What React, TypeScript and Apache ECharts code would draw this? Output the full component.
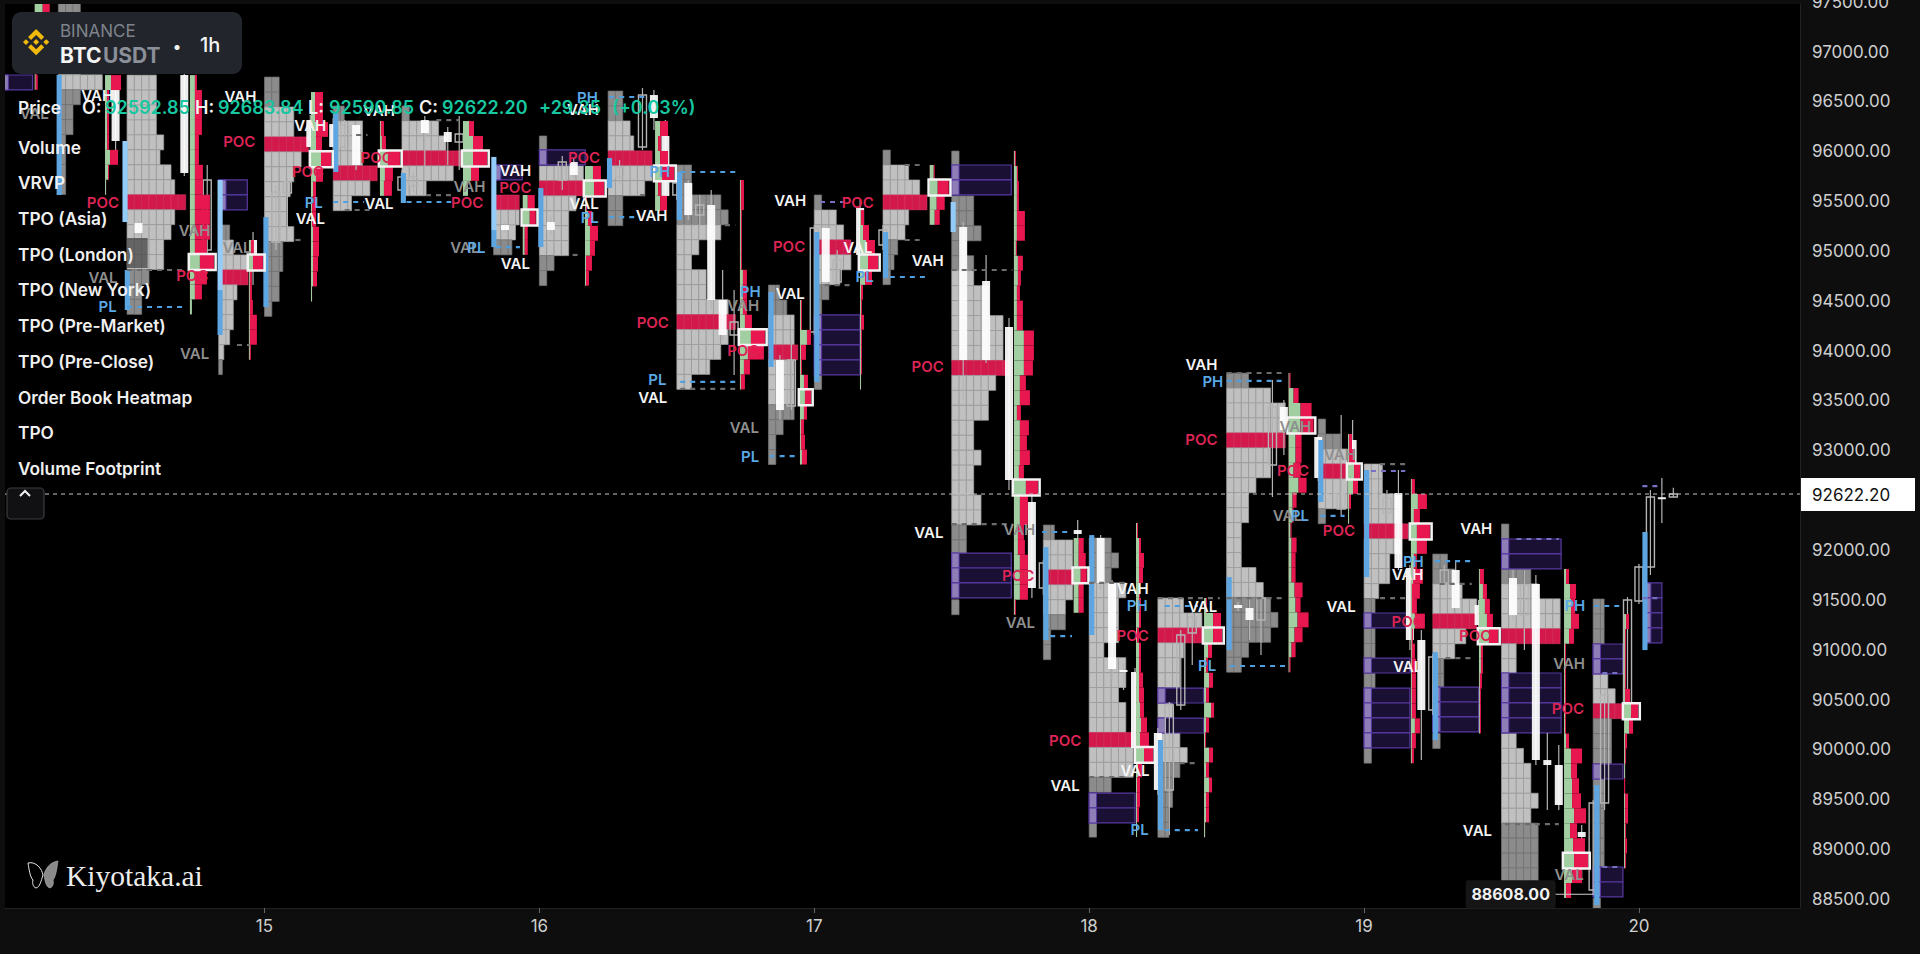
import React, { useEffect, useRef } from "react";
import * as echarts from "echarts";

// ---------- axes ----------
const dayHours = [24, 48, 72, 96, 120, 144];
const dayLabels = ["15", "16", "17", "18", "19", "20"];
const priceTicks = [88500, 89000, 89500, 90000, 90500, 91000, 91500, 92000, 93000, 93500, 94000, 94500, 95000, 95500, 96000, 96500, 97000, 97500];
const lastPrice = 92622.2;
const lowPrice = 88608;
const legendNames = ["Price", "Volume", "VRVP", "TPO (Asia)", "TPO (London)", "TPO (New York)", "TPO (Pre-Market)", "TPO (Pre-Close)", "Order Book Heatmap", "TPO", "Volume Footprint"];

// ---------- TPO profiles (hours since the 14th, price of first row, cells per 150-USD row) ----------
const profileHour = [6, 12, 20, 24, 30, 36, 44, 48, 54, 60, 68, 72, 78, 84, 92, 96, 102, 108, 116, 120, 126, 132, 140];
const profileTop = [97577, 96824, 95320, 96804, 96514, 96514, 95621, 96213, 96664, 95922, 94718, 95621, 96072, 96062, 92311, 92181, 91579, 93835, 93374, 92923, 92020, 92321, 91569];
const profileCells = [
  [3, 3, 3, 3, 3, 6, 3, 2, 2, 1, 1, 1, 1],
  [4, 4, 4, 4, 5, 4.5, 6, 6.5, 8, 6.5, 6, 5, 5, 3, 2, 2],
  [1.5, 2, 4, 4, 2.5, 2, 2, 1.5, 0.7, 0.5],
  [2, 2, 4, 4, 6, 5, 4, 3.5, 3, 3, 4, 2.5, 2.5, 2, 2, 1],
  [1.5, 4, 4, 4, 6, 5, 2.5],
  [1, 5, 6, 8, 7, 3.3],
  [3.5, 3.5, 3, 2.5],
  [1, 0, 6, 6, 5, 4, 4, 4, 2, 1],
  [2, 2, 3, 3.5, 6, 6, 5, 2, 2],
  [2, 2, 6, 7, 6, 3, 2, 4, 4, 7, 8, 7, 6, 4.5, 2],
  [1.5, 2.5, 3.5, 3.5, 4, 3.5, 3.5, 3.5, 3.5, 2, 1, 1],
  [1, 3, 4, 5, 5, 3.5, 2, 1, 0, 0, 0, 0, 1],
  [1, 3.5, 5, 6, 3.5, 3, 2, 1.5, 1],
  [1, 0, 0, 3, 3, 4, 2, 3, 3, 5, 5, 7, 7, 7, 8, 6, 5, 5, 3, 3, 4, 3, 3, 4, 4, 2, 2, 0, 0, 0, 1],
  [1.5, 4, 4, 5, 4, 3, 3, 1, 1],
  [3, 4, 3, 5, 4, 4, 4, 2, 5, 5, 4, 5, 5, 6, 6, 6, 3, 0, 0, 1],
  [3.5, 6, 6, 3.5, 3, 3, 0, 2, 0, 3, 4, 3, 2, 2, 1.5, 1.5],
  [3, 6, 8, 8, 8, 6, 6, 4, 3, 3, 2, 2, 2, 4, 5, 6, 7, 6, 3, 2],
  [1, 3, 4, 4, 4, 4, 1],
  [2.5, 2.5, 5, 5, 6, 5, 3.5, 3.5, 2, 1.5, 0, 1.5, 1.5, 0, 1.5, 0, 0, 0, 0, 1],
  [2, 3, 4, 6, 6, 4.5, 3, 1.5, 1.5, 0, 0, 0, 1],
  [1, 0, 0, 4, 5, 8, 8, 8, 2, 2, 0, 0, 0, 0, 2, 3, 4, 4, 5, 4, 5, 5, 5, 5, 1, 1],
  [1.5, 1.5, 1.5, 0, 0, 2, 3, 4, 2.5, 2.5, 2.5, 0, 1.5, 1.5, 1.5, 1.5, 1.5, 1.5, 0, 0, 1],
];
const profilePoc = [-1, 8, 3, 4, 4, 3, 0, 3, 4, 10, 4, 3, 3, 14, 3, 13, 2, 4, 3, 4, 4, 7, 7];
const profileVaFrom = [5, 0, 1, 2, 1, 1, 0, 2, 2, 4, 2, 1, 1, 8, 1, 3, 0, 1, 2, 0, 2, 4, 5];
const profileVaTo = [5, 12, 8, 10, 6, 5, 2, 7, 6, 14, 7, 5, 5, 24, 5, 15, 10, 14, 5, 8, 6, 19, 7];

// ---------- volume footprints: [buy, sell] per row ----------
const footHour = [3.94, 10.08, 17.49, 22.64, 28.06, 34.08, 41.33, 46.55, 51.98, 58.1, 65.51, 70.75, 75.99, 82.08, 89.43, 94.65, 100.09, 106.03, 113.41, 118.6, 124.09, 130.03, 137.46, 142.7];
const footTop = [97577, 96824, 96824, 95169, 96654, 96363, 96363, 95621, 95912, 96363, 95771, 94568, 95470, 95922, 96062, 92181, 92331, 91579, 93835, 93224, 92772, 91870, 91870, 91418];
const footBoxRow = [-1, -1, 12, 1, 4, 2, 2, 1, 1, 3, 10, 6, 3, 1, 22, 2, 15, 2, 3, 2, 3, 4, 19, 6];
const footRows = [
  [[8, 7], [1, 1], [1, 1], [1, 1], [1, 1], [1, 2]],
  [[6, 10], [2, 2], [2, 2], [2, 2], [2, 2], [5, 8], [3, 1], [1, 0]],
  [[5, 2], [5, 7], [5, 7], [5, 7], [5, 4], [5, 4], [5, 8], [5, 8], [5, 15], [5, 15], [5, 15], [5, 12], [10, 14], [5, 12], [5, 7], [2, 0]],
  [[2, 3], [4, 10], [1, 2], [1, 2], [1, 3], [1, 7], [1, 7], [1, 1]],
  [[4, 8], [4, 8], [5, 12], [5, 6], [10, 10], [5, 7], [2, 3], [1, 4], [1, 4], [2, 6], [2, 6], [2, 5], [2, 4], [1, 0]],
  [[1, 3], [2, 4], [8, 12], [5, 8], [4, 8]],
  [[6, 5], [10, 10], [10, 14], [8, 8], [5, 0]],
  [[5, 7], [7, 6], [2, 3], [2, 3]],
  [[8, 8], [9, 10], [1, 1], [3, 4], [5, 8], [5, 5], [1, 6], [1, 3]],
  [[5, 8], [3, 3], [5, 8], [7, 12], [3, 3], [5, 7]],
  [[1, 3], [1, 3], [1, 1], [1, 1], [1, 1], [1, 1], [3, 4], [3, 4], [3, 4], [5, 7], [11, 14], [8, 16], [4, 6], [1, 4]],
  [[1, 1], [1, 1], [7, 4], [1, 5], [1, 1], [4, 4], [5, 6], [4, 3], [1, 3], [1, 4], [2, 5]],
  [[1, 3], [3, 6], [6, 9], [8, 10], [5, 7], [1, 2], [1, 1], [1, 3], [1, 1], [1, 1], [1, 1], [1, 0]],
  [[4, 1], [8, 11], [7, 8], [5, 5]],
  [[1, 1], [3, 1], [3, 2], [3, 2], [3, 8], [3, 8], [2, 1], [4, 5], [4, 3], [3, 3], [3, 6], [3, 6], [10, 10], [10, 10], [10, 9], [6, 6], [6, 10], [3, 4], [6, 9], [6, 7], [6, 10], [5, 5], [12, 12], [6, 8], [6, 8], [4, 6], [4, 7], [6, 8], [6, 8], [6, 8], [1, 1]],
  [[5, 5], [5, 7], [7, 6], [5, 5], [5, 5]],
  [[1, 1], [3, 2], [3, 5], [3, 4], [3, 1], [3, 2], [3, 2], [1, 2], [3, 2], [3, 2], [3, 4], [3, 5], [4, 4], [5, 6], [4, 9], [8, 9], [2, 4], [1, 3], [1, 3], [1, 2], [1, 0]],
  [[2, 1], [9, 8], [9, 9], [4, 4], [2, 2], [5, 4], [2, 3], [7, 3], [2, 3], [1, 1], [5, 4], [2, 3], [5, 3], [2, 3], [2, 3], [1, 0]],
  [[1, 1], [5, 5], [12, 11], [12, 13], [7, 6], [7, 6], [5, 7], [10, 8], [4, 4], [4, 1], [2, 1], [3, 5], [3, 4], [3, 4], [6, 8], [7, 5], [9, 11], [6, 8], [3, 4], [1, 1]],
  [[1, 3], [1, 6], [6, 6], [5, 5], [1, 2], [1, 0]],
  [[1, 3], [7, 9], [3, 6], [6, 13], [6, 10], [3, 3], [2, 10], [1, 8], [1, 5], [4, 10], [1, 1], [1, 3], [1, 4], [1, 4], [1, 4], [1, 4], [4, 5], [1, 4], [1, 2]],
  [[1, 4], [4, 4], [6, 5], [8, 6], [10, 9], [2, 2], [2, 2], [1, 2], [1, 1], [1, 1], [1, 1]],
  [[2, 3], [6, 6], [7, 4], [7, 8], [5, 5], [1, 1], [1, 1], [1, 1], [1, 1], [1, 1], [1, 1], [2, 3], [7, 11], [7, 6], [8, 7], [8, 9], [10, 12], [6, 7], [9, 12], [10, 14], [8, 10], [2, 5]],
  [[2, 3], [1, 1], [1, 1], [1, 1], [1, 1], [1, 5], [7, 7], [5, 4], [1, 2], [1, 1], [1, 0], [0, 1], [1, 3], [1, 3], [1, 1], [1, 2], [1, 1]],
];

// ---------- candles: [hour, open, close, high, low] ----------
const candles = [
  [11, 96775, 96163, 96805, 96073], [13, 95340, 95240, 95370, 95210], [17, 96825, 95842, 96845, 95812], [19, 95070, 95772, 95922, 95020],
  [23, 95170, 94869, 95250, 94718], [25, 95150, 95651, 95722, 95070], [26, 95641, 95751, 95792, 95170], [28, 96373, 96103, 96424, 95972],
  [30, 96333, 96103, 96393, 96073], [31, 96103, 96323, 96373, 96053], [32, 96323, 95922, 96353, 95872], [36, 95671, 95802, 95872, 95571],
  [37, 95711, 95802, 95842, 95650], [38, 96373, 96243, 96414, 95872], [40, 96253, 96153, 96303, 95922], [41, 96153, 96233, 96414, 95872],
  [45, 95320, 95270, 95350, 95240], [49, 95350, 95270, 95400, 95220], [50, 95772, 95952, 96012, 95671], [51, 95952, 95822, 95992, 95792],
  [55, 95802, 95902, 95972, 95721], [57, 96103, 96624, 96694, 96073], [58, 96624, 96393, 96674, 96273], [59, 96213, 95611, 96373, 95571],
  [60, 95621, 95742, 95792, 95571], [61, 95742, 95420, 95772, 95370], [62, 95420, 95521, 95621, 95320], [63, 95521, 94568, 95671, 94468],
  [64, 94568, 94217, 94869, 94167], [65, 94217, 94347, 94668, 93816], [69, 93966, 93465, 94017, 93365], [70, 93505, 93966, 94167, 93465],
  [72, 94247, 95290, 95320, 94217], [73, 95290, 94749, 95320, 94719], [74, 94749, 94969, 95070, 94719], [76, 95491, 95020, 95571, 94990],
  [78, 95120, 95270, 95320, 95070], [85, 95300, 93966, 95350, 93565], [87, 94759, 93966, 95020, 93936], [89, 94297, 92763, 94387, 92662],
  [91, 92542, 91679, 92612, 91579], [92, 91679, 91930, 91960, 91609], [95, 92261, 92221, 92361, 92110], [97, 92181, 91730, 92211, 91660],
  [98, 91730, 90867, 91760, 90757], [99, 90857, 90837, 90927, 90657], [100, 90837, 90075, 90877, 89954], [102, 90225, 89654, 90275, 89604],
  [103, 89654, 90506, 90536, 89202], [104, 90506, 91208, 91258, 90456], [105, 91228, 91389, 91439, 90907], [109, 91509, 91479, 91539, 91449],
  [110, 91479, 91359, 91659, 91158], [111, 91359, 91579, 91659, 91008], [112, 92913, 93495, 93766, 92592], [113, 93495, 93264, 93565, 93014],
  [116, 93194, 92783, 93214, 92753], [118, 92472, 92622, 93415, 92412], [119, 93164, 92933, 93365, 92863], [122, 92432, 92582, 92662, 92362],
  [123, 92632, 91880, 92863, 91860], [124, 91880, 91158, 91910, 91058], [125, 91158, 90456, 91258, 89954], [126, 90456, 90987, 91017, 90406],
  [127, 91730, 91860, 91910, 91700], [128, 91860, 91479, 91960, 91439], [130, 91509, 91308, 91559, 91108], [133, 91780, 91408, 91860, 91358],
  [134, 91408, 91709, 91860, 91058], [135, 91720, 89954, 91810, 89904], [136, 89954, 89904, 90225, 89453], [137, 89904, 89503, 90105, 89453],
  [139, 89232, 89182, 89302, 88751], [140, 88650, 89523, 89553, 88600], [141, 89523, 90606, 90656, 89453], [143, 90426, 91559, 91589, 90396],
  [144, 91549, 91890, 91920, 91519], [145, 91890, 92592, 92662, 91810], [146, 92590, 92570, 92783, 92331], [147, 92592.85, 92622.2, 92683.84, 92590.85],
];

// ---------- blue day-range bars: [hour, top price, bottom price, pale] ----------
const rangeBars = [
  [5.85, 96825, 95621, 0], [11.6, 96163, 95350, 1], [11.8, 94869, 94468, 0], [19.9, 95772, 94668, 1], [19.9, 94668, 94217, 0], [23.9, 95400, 94498, 0],
  [30, 96444, 95852, 0], [35.9, 95842, 95541, 0], [43.8, 96003, 95270, 1], [43.8, 95270, 95099, 0], [47.9, 95691, 95099, 0], [53.9, 95992, 95691, 0],
  [60, 95852, 95370, 0], [68, 94648, 93896, 0], [72, 95250, 93746, 0], [78, 95250, 94789, 0], [83.9, 95551, 95250, 1], [92, 92090, 91157, 0],
  [96, 92210, 91208, 0], [102, 90155, 89252, 0], [108, 91789, 91057, 0], [116, 93164, 92542, 0], [120, 92863, 91789, 0], [126, 91037, 90155, 0],
  [140.1, 89703, 88500, 0], [144.3, 92241, 91057, 0],
];
const shadeBlocks = [[12, 13.8, 95190, 94889, 11]];

// ---------- order-book boxes: [start hour, end hour, top price, rows] ----------
const bookBoxes = [
  [1, 3.75, 96825, 1], [20, 22.5, 95772, 2], [44, 46.5, 95922, 1], [48, 52, 96073, 1], [72, 76, 94418, 4], [84, 89.2, 95922, 2], [84, 89.2, 92030, 3],
  [96, 100, 89623, 2], [102, 106, 90676, 1], [102, 106, 90375, 1], [120, 124, 91429, 1], [120, 124, 90977, 1], [120, 124, 90676, 4], [126, 130, 90686, 3],
  [132, 137.2, 92171, 2], [132, 137.2, 90827, 4], [140, 142.6, 91118, 2], [140, 142.6, 89914, 1], [140, 142.6, 88881, 2], [144.4, 146, 91730, 4],
];

// ---------- dashed session levels: [start hour, end hour, price] ----------
const valueLevels = [
  [12, 17, 94869], [21.6, 22.7, 94117], [26.7, 27.5, 95170], [31, 33.2, 95471], [32, 33, 96223], [38.1, 40.3, 95621], [39, 41, 96373], [50.9, 51.5, 95020],
  [56.8, 57.6, 95621], [64.2, 65.1, 95320], [60.3, 65.1, 93676], [72.9, 75.1, 94718], [79.9, 81.2, 95922], [79.9, 81.2, 95170], [84, 89.3, 94869], [84, 89.3, 92321],
  [96, 99.1, 91730], [96, 99.1, 89784], [102, 107.4, 91579], [103.9, 105.5, 89924], [108, 113.1, 93836], [108, 113.1, 91579], [121.4, 123.6, 92923],
  [121.4, 123.6, 91579], [126.6, 129.4, 91720], [127.1, 129.4, 90977], [132.3, 137, 89312],
];
const rangeLevels = [
  [12, 17, 94498], [30, 32.7, 95551], [36.4, 40.3, 95551], [44.2, 46.3, 95099], [54.1, 57.2, 96604], [54.1, 56.8, 95400], [60.3, 65.1, 95852], [60.3, 65.1, 93746],
  [68.1, 70.3, 93003], [78.6, 81.7, 94799], [91.9, 94.4, 92241], [92.6, 94.5, 91197], [102.6, 105.5, 91499], [102.6, 105.5, 89252], [108, 113.1, 93756],
  [108.3, 113.1, 90897], [116.2, 118.3, 92402], [126.2, 129.5, 91950], [140.1, 142.5, 91499],
];
const bookLevels = [
  [72.5, 74.7, 95551], [120.6, 123.6, 92853], [133.3, 137, 92171], [140.8, 142.5, 90827], [140.8, 142.5, 88881], [144.3, 145.8, 91579], [144.3, 145.8, 92702],
];

// ---------- level names: [hour, price] per name and colour ----------
const vahWhite = [[9.4, 96624], [21.9, 96614], [28, 96323], [34, 96464], [45.9, 95872], [51.8, 96474], [57.8, 95420], [69.9, 95571], [81.9, 94969], [99.8, 91679], [105.8, 93926], [123.8, 91810], [129.8, 92281]];
const vahGrey = [[17.9, 95270], [41.9, 95711], [65.8, 94518], [89.9, 92271], [114, 93304], [117.9, 93023], [137.9, 90927]];
const valWhite = [[28, 95390], [34, 95541], [45.9, 94939], [51.9, 95541], [57.9, 93595], [69.9, 94638], [75.8, 95090], [82, 92241], [93.9, 89694], [100, 89854], [105.9, 91489], [118, 91489], [123.8, 90897], [129.9, 89252]];
const valGrey = [[3.9, 96434], [9.9, 94789], [21.6, 95090], [17.9, 94036], [41.5, 95090], [65.9, 93294], [90, 91338], [113.3, 92402], [137.9, 88801]];
const pocRed = [[9.9, 95551], [17.7, 94809], [21.8, 96153], [27.8, 95852], [33.8, 96002], [41.7, 95551], [45.9, 95701], [51.9, 96002], [57.9, 94347], [65.8, 94057], [69.8, 95100], [75.8, 95551], [81.9, 93906], [89.8, 91800], [93.9, 90155], [99.8, 91208], [105.8, 93164], [113.8, 92863], [117.8, 92261], [123.8, 91348], [129.7, 91208], [137.8, 90466]];
const phBlue = [[52.2, 96604], [58.5, 95852], [66.4, 94658], [100.2, 91509], [106.8, 93746], [124.3, 91950], [138.4, 91509]];
const plBlue = [[10.3, 94498], [28.3, 95551], [42.5, 95090], [52.4, 95400], [58.3, 93766], [66.4, 93003], [76.4, 94799], [100.4, 89262], [106.3, 90907], [114.4, 92402]];

const ohlcTexts = [
  ["O:", 82, "#f2f2f2"], ["92592.85", 105, "#16c7a0"], ["H:", 195, "#f2f2f2"], ["92683.84", 218, "#16c7a0"], ["L:", 308, "#f2f2f2"], ["92590.85", 329, "#16c7a0"],
  ["C:", 419, "#f2f2f2"], ["92622.20", 442, "#16c7a0"], ["+29.35", 539, "#16c7a0"], ["(+0.03%)", 612, "#16c7a0"],
] as const;

// ---------- styling ----------
const PX_PER_HOUR = 11.454;
const CELL_HOURS = 0.64;
const ROW = 150;
const BOX_ROW = 150;
const BAR_H = 0.45;
const CANDLE_H = 0.7;
const X_MIN = 1.345;
const X_MAX = 158.06;

const STYLES: any[] = [
  { fill: "#c0c0c0", stroke: "#9e9e9e", lineWidth: 0.7 },
  { fill: "#8c8c8c", stroke: "#747474", lineWidth: 0.7 },
  { fill: "#d3184c", stroke: "#e23d68", lineWidth: 0.5 },
  { fill: "#a2cfa2", stroke: "#a2cfa2", lineWidth: 0 },
  { fill: "#e8174f", stroke: "#e8174f", lineWidth: 0 },
  { fill: "none", stroke: "#f4f4f4", lineWidth: 2.5 },
  { fill: "#1a1033", stroke: "#5738a0", lineWidth: 1.2 },
  { fill: "#8e7eb8", stroke: "#5738a0", lineWidth: 1 },
  { fill: "#5ea6e2", stroke: "#5ea6e2", lineWidth: 0 },
  { fill: "#93ccf8", stroke: "#93ccf8", lineWidth: 0 },
  { fill: "#7c2b3a", stroke: "#7c2b3a", lineWidth: 0 },
  { fill: "rgba(70,70,70,0.75)", stroke: "none", lineWidth: 0 },
];

function build() {
  const cells: number[][] = [];
  profileCells.forEach((rows, i) => {
    rows.forEach((n, r) => {
      const top = profileTop[i] - r * ROW;
      const style = r === profilePoc[i] ? 2 : r >= profileVaFrom[i] && r <= profileVaTo[i] ? 0 : 1;
      for (let c = 0; c < n; c++) {
        const x0 = profileHour[i] + c * CELL_HOURS;
        const x1 = profileHour[i] + Math.min(c + 1, n) * CELL_HOURS;
        cells.push([x0, x1, top, top - ROW, style]);
      }
    });
  });
  const books: number[][] = [];
  bookBoxes.forEach(([h0, h1, top, rows]) => {
    for (let r = 0; r < rows; r++) {
      const t = top - r * BOX_ROW;
      books.push([h0, h1, t, t - BOX_ROW, 6]);
      books.push([h0, h0 + CELL_HOURS, t, t - BOX_ROW, 7]);
    }
  });
  const bars = rangeBars.map(([h, t, b, pale]) => [h, h + BAR_H, t, b, pale ? 9 : 8]);
  const foot: number[][] = [];
  const boxes: number[][] = [];
  footRows.forEach((rows, i) => {
    const h = footHour[i];
    foot.push([h, h + 0.1, footTop[i], footTop[i] - rows.length * ROW, 10]);
    rows.forEach(([g, r], k) => {
      const top = footTop[i] - k * ROW;
      const mid = h + g / PX_PER_HOUR;
      const end = mid + r / PX_PER_HOUR;
      if (g) foot.push([h, mid, top, top - ROW, 3]);
      if (r) foot.push([mid, end, top, top - ROW, 4]);
      if (k === footBoxRow[i]) boxes.push([h - 0.1, end + 0.15, top + 5, top - ROW - 5, 5]);
    });
  });
  return { cells, books, bars, foot, boxes };
}

const rectSeries = (data: number[][], z: number) => ({
  type: "custom",
  silent: true,
  clip: true,
  z,
  data,
  renderItem: (_p: any, api: any) => {
    const a = api.coord([api.value(0), api.value(2)]);
    const b = api.coord([api.value(1), api.value(3)]);
    return { type: "rect", shape: { x: a[0], y: a[1], width: b[0] - a[0], height: b[1] - a[1] }, style: STYLES[api.value(4)] };
  },
});

const dashSeries = (data: number[][], color: string, z: number) => ({
  type: "custom",
  silent: true,
  clip: true,
  z,
  data,
  renderItem: (_p: any, api: any) => {
    const a = api.coord([api.value(0), api.value(2)]);
    const b = api.coord([api.value(1), api.value(2)]);
    return { type: "line", shape: { x1: a[0], y1: a[1], x2: b[0], y2: b[1] }, style: { stroke: color, lineWidth: 2.2, lineDash: [5, 5] } };
  },
});

const labelSeries = (text: string, data: number[][], color: string) => ({
  type: "custom",
  silent: true,
  clip: false,
  z: 20,
  data,
  renderItem: (_p: any, api: any) => {
    const a = api.coord([api.value(0), api.value(1)]);
    return { type: "text", style: { text, x: a[0], y: a[1], fill: color, font: "600 15px Inter", align: "center", verticalAlign: "middle" } };
  },
});

const BNB = "M9.79 13.45 16 7.24l6.21 6.21 3.61-3.61L16 0 6.18 9.84zM0 16l3.61-3.61L7.22 16l-3.61 3.61zM9.79 18.55 16 24.76l6.21-6.21 3.62 3.6L16 32l-9.82-9.82zM24.78 16l3.61-3.61L32 16l-3.61 3.61zM19.66 16 16 12.34 13.3 15.05l-.31.31-.64.64L16 19.66 19.66 16z";
const WING_L = "M0 2 C8 0 14 8 15 14 C13 20 12 26 8 27 C5 26 4 22 5 19 C2 16 1 8 0 2 Z";
const WING_R = "M30 0 C22 1 17 8 16 14 C17 20 18 26 22 27 C25 26 26 22 25 19 C28 16 29 6 30 0 Z";
echarts.graphic.registerShape("bnbLogo", echarts.graphic.extendPath(BNB, {}) as any);
echarts.graphic.registerShape("wingLeft", echarts.graphic.extendPath(WING_L, {}) as any);
echarts.graphic.registerShape("wingRight", echarts.graphic.extendPath(WING_R, {}) as any);

export default function App() {
  const ref = useRef<HTMLDivElement>(null);
  useEffect(() => {
    document.body.style.margin = "0";
    document.body.style.background = "#0e0e0e";
    const chart = echarts.init(ref.current!, undefined, { renderer: "svg" });
    const { cells, books, bars, foot, boxes } = build();
    const legendY = [107, 147, 182, 218, 254, 289, 325, 361, 397, 432, 468];
    const Z = 1000;
    chart.setOption({
      animation: false,
      backgroundColor: "#0e0e0e",
      grid: { left: 5, right: 120, top: 4, bottom: 46, show: true, backgroundColor: "#000", borderWidth: 0, outerBoundsMode: "none" },
      tooltip: { show: false },
      xAxis: {
        type: "value",
        min: X_MIN,
        max: X_MAX,
        axisLine: { show: true, onZero: false, lineStyle: { color: "#222" } },
        axisTick: { show: true, length: 5, lineStyle: { color: "#666" }, customValues: dayHours },
        axisLabel: { color: "#cfcfcf", fontFamily: "Inter", fontSize: 17, margin: 9, customValues: dayHours, formatter: (v: number) => dayLabels[dayHours.indexOf(v)] ?? "" },
        splitLine: { show: false },
      },
      yAxis: {
        type: "value",
        position: "right",
        min: 88470,
        max: 97537,
        axisLine: { show: true, onZero: false, lineStyle: { color: "#222" } },
        axisTick: { show: false },
        axisLabel: { color: "#cfcfcf", fontFamily: "Inter", fontSize: 17, margin: 12, verticalAlign: "bottom", lineHeight: 12, customValues: priceTicks, formatter: (v: number) => v.toFixed(2) },
        splitLine: { show: false },
      },
      series: [
        rectSeries(cells, 2),
        rectSeries(books, 3),
        {
          type: "custom",
          silent: true,
          clip: true,
          z: 4,
          data: candles,
          renderItem: (_p: any, api: any) => {
            const h = api.value(0), o = api.value(1), c = api.value(2), hi = api.value(3), lo = api.value(4);
            const top = Math.max(o, c), bot = Math.min(o, c);
            const a = api.coord([h - CANDLE_H / 2, top]);
            const b = api.coord([h + CANDLE_H / 2, bot]);
            const wt = api.coord([h, hi]);
            const wb = api.coord([h, lo]);
            const filled = c < o;
            const col = filled ? "#ffffff" : "#b4b4b4";
            return {
              type: "group",
              children: [
                { type: "line", shape: { x1: wt[0], y1: wt[1], x2: wb[0], y2: wb[1] }, style: { stroke: "#b4b4b4", lineWidth: 1.2 } },
                { type: "rect", shape: { x: a[0], y: a[1], width: b[0] - a[0], height: Math.max(b[1] - a[1], 2) }, style: { fill: filled ? "rgba(255,255,255,0.93)" : "rgba(0,0,0,0)", stroke: col, lineWidth: filled ? 0 : 1.4 } },
              ],
            };
          },
        },
        rectSeries(shadeBlocks, 4),
        rectSeries(bars, 5),
        rectSeries(foot, 6),
        rectSeries(boxes, 7),
        dashSeries(valueLevels, "#6c6c6c", 8),
        dashSeries(rangeLevels, "#4f9fe0", 8),
        dashSeries(bookLevels, "#7670c4", 8),
        labelSeries("VAH", vahWhite, "#f4f4f4"),
        labelSeries("VAH", vahGrey, "#8f8f8f"),
        labelSeries("VAL", valWhite, "#f4f4f4"),
        labelSeries("VAL", valGrey, "#8f8f8f"),
        labelSeries("POC", pocRed, "#dd2454"),
        labelSeries("PH", phBlue, "#5aa9e6"),
        labelSeries("PL", plBlue, "#5aa9e6"),
        {
          type: "custom",
          silent: true,
          clip: false,
          z: 30,
          data: [[lastPrice]],
          renderItem: (p: any, api: any) => {
            const a = api.coord([X_MIN, api.value(0)]);
            const b = api.coord([X_MAX, api.value(0)]);
            return {
              type: "group",
              children: [
                { type: "line", shape: { x1: a[0], y1: a[1], x2: b[0], y2: b[1] }, style: { stroke: "#c8c8c8", lineWidth: 1, lineDash: [4, 4] } },
                { type: "rect", shape: { x: b[0] + 1, y: b[1] - 16, width: 114, height: 33 }, style: { fill: "#ffffff" } },
                { type: "text", style: { text: lastPrice.toFixed(2), x: b[0] + 12, y: b[1] + 1, fill: "#111", font: "400 17px Inter", align: "left", verticalAlign: "middle" } },
              ],
            };
          },
        },
        {
          type: "custom",
          silent: true,
          clip: false,
          z: 31,
          data: [[lowPrice]],
          renderItem: (p: any, api: any) => {
            const c = api.coord([132.8, api.value(0)]);
            const e = api.coord([140, api.value(0)]);
            return {
              type: "group",
              children: [
                { type: "rect", shape: { x: c[0] - 45, y: c[1] - 14, width: 90, height: 28, r: 3 }, style: { fill: "#151515" } },
                { type: "text", style: { text: lowPrice.toFixed(2), x: c[0], y: c[1], fill: "#f0f0f0", font: "700 16px Inter", align: "center", verticalAlign: "middle" } },
                { type: "line", shape: { x1: c[0] + 45, y1: c[1], x2: e[0], y2: e[1] }, style: { stroke: "#cfcfcf", lineWidth: 1.2 } },
              ],
            };
          },
        },
      ],
      graphic: [
        { type: "rect", z: Z, shape: { x: 12, y: 12, width: 230, height: 62, r: 9 }, style: { fill: "#22252c" } },
        { type: "bnbLogo", z: Z + 1, x: 23, y: 29, scaleX: 0.82, scaleY: 0.82, style: { fill: "#f0b90b" } },
        { type: "text", z: Z + 1, style: { text: "BINANCE", x: 60, y: 31, fill: "#7f838b", font: "400 17px Inter", verticalAlign: "middle" } },
        { type: "text", z: Z + 1, style: { text: "BTC", x: 60, y: 55, fill: "#f4f4f4", font: "700 21px Inter", verticalAlign: "middle" } },
        { type: "text", z: Z + 1, style: { text: "USDT", x: 103, y: 55, fill: "#8a8f98", font: "700 21px Inter", verticalAlign: "middle" } },
        { type: "text", z: Z + 1, style: { text: "•", x: 177, y: 46, fill: "#f4f4f4", font: "400 16px Inter", align: "center", verticalAlign: "middle" } },
        { type: "text", z: Z + 1, style: { text: "1h", x: 200, y: 45, fill: "#f4f4f4", font: "500 20px Inter", verticalAlign: "middle" } },
        ...legendNames.map((t, i) => ({ type: "text", z: Z, style: { text: t, x: 18, y: legendY[i], fill: "#f0f0f0", font: "600 17.3px Inter", verticalAlign: "middle" } })),
        ...ohlcTexts.map(([t, x, c]) => ({ type: "text", z: Z, style: { text: t, x, y: 107, fill: c, font: "600 18px Inter", verticalAlign: "middle" } })),
        { type: "rect", z: Z, shape: { x: 7, y: 488, width: 37, height: 31, r: 4 }, style: { fill: "#111114", stroke: "#3c3c40", lineWidth: 1.2 } },
        { type: "polyline", z: Z + 1, shape: { points: [[20, 496], [25, 491], [30, 496]] }, style: { stroke: "#f0f0f0", lineWidth: 2, fill: "none" } },
        { type: "wingLeft", z: Z, x: 28, y: 861, style: { fill: "#000", stroke: "#e8e8e8", lineWidth: 1 } },
        { type: "wingRight", z: Z, x: 28, y: 861, style: { fill: "#8a8a8a", stroke: "#bbb", lineWidth: 0.6 } },
        { type: "text", z: Z, style: { text: "Kiyotaka.ai", x: 66, y: 876, fill: "#ededed", font: "400 29.5px 'Liberation Serif'", verticalAlign: "middle" } },
      ],
    });
    return () => chart.dispose();
  }, []);
  return <div ref={ref} style={{ width: 1920, height: 954 }} />;
}
